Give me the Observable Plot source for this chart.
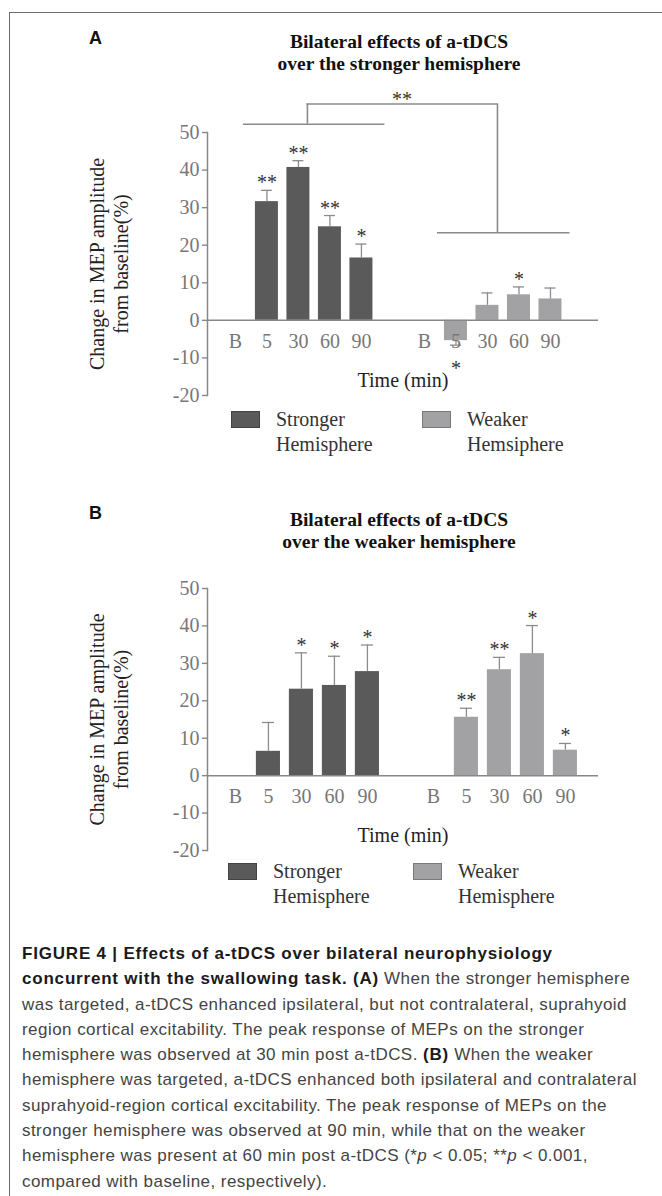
<!DOCTYPE html>
<html><head><meta charset="utf-8">
<script src="https://cdn.jsdelivr.net/npm/d3@7"></script>
<script src="https://cdn.jsdelivr.net/npm/@observablehq/plot@0.6"></script>
<style>
html,body{margin:0;padding:0;background:#fff;}
#page{position:relative;width:662px;height:1196px;overflow:hidden;background:#fff;}
#border{position:absolute;left:9px;top:12px;width:700px;height:1300px;border-left:1.4px solid #6a6a6a;border-top:1.4px solid #6a6a6a;}
.plabel{position:absolute;font-family:"Liberation Sans",Arial,sans-serif;font-weight:bold;font-size:18px;line-height:18px;color:#111;}
.title{position:absolute;font-family:"Liberation Serif",serif;font-weight:bold;font-size:19.5px;line-height:21.5px;text-align:center;color:#111;white-space:nowrap;transform:translateX(-50%);}
.chart{position:absolute;left:0;}
.leg{position:absolute;display:flex;align-items:flex-start;font-family:"Liberation Serif",serif;font-size:20px;line-height:25px;color:#333;}
.sw{width:29px;height:17px;margin-top:4px;margin-right:16px;box-sizing:border-box;border:1px solid rgba(0,0,0,0.25);}
.caption{position:absolute;left:22px;top:941px;font-family:"Liberation Sans",Arial,sans-serif;font-size:17px;letter-spacing:0.45px;line-height:25.3px;color:#444;white-space:nowrap;}
.caption b{color:#1a1a1a;letter-spacing:0.8px;}
</style>
</head><body>
<div id="page">
  <div id="border"></div>
  <div class="plabel" style="left:89px;top:29px">A</div>
  <div class="title" style="left:399px;top:31px">Bilateral effects of a-tDCS<br>over the stronger hemisphere</div>
  <div id="chartA" class="chart" style="top:80px"></div>
  <div class="plabel" style="left:89px;top:504px">B</div>
  <div class="title" style="left:399px;top:509px">Bilateral effects of a-tDCS<br>over the weaker hemisphere</div>
  <div id="chartB" class="chart" style="top:560px"></div>
  <div class="caption">
    <b>FIGURE 4 | Effects of a-tDCS over bilateral neurophysiology</b><br>
    <b>concurrent with the swallowing task. (A)</b> When the stronger hemisphere<br>
    was targeted, a-tDCS enhanced ipsilateral, but not contralateral, suprahyoid<br>
    region cortical excitability. The peak response of MEPs on the stronger<br>
    hemisphere was observed at 30 min post a-tDCS. <b>(B)</b> When the weaker<br>
    hemisphere was targeted, a-tDCS enhanced both ipsilateral and contralateral<br>
    suprahyoid-region cortical excitability. The peak response of MEPs on the<br>
    stronger hemisphere was observed at 90 min, while that on the weaker<br>
    hemisphere was present at 60 min post a-tDCS (*<i>p</i> &lt; 0.05; **<i>p</i> &lt; 0.001,<br>
    compared with baseline, respectively).
  </div>
</div>
<script>
// ---- data ----
const timeLabels = ["B", "5", "30", "60", "90"];
const groupKeys = ["S", "W"];
const yTicks = [-20, -10, 0, 10, 20, 30, 40, 50];
const barColors = ["#5a5a5a", "#a2a2a4"];
const yLabel = "Change in MEP amplitude\nfrom baseline(%)";
const xLabel = "Time (min)";

// Panel A: a-tDCS over the stronger hemisphere
const aStrongMean = [0, 31.6, 40.7, 24.9, 16.6];
const aStrongErr  = [null, 34.6, 42.5, 27.9, 20.3];
const aStrongSig  = ["", "**", "**", "**", "*"];
const aWeakMean   = [0, -5.4, 4.0, 6.8, 5.7];
const aWeakErr    = [null, -6.6, 7.3, 8.9, 8.6];
const aWeakSig    = ["", "*", "", "*", ""];
const aLegend     = ["Stronger\nHemisphere", "Weaker\nHemsiphere"];
const aBracketLevels = [52.2, 57.6, 23.3]; // strong-group bar, top bar, weak-group bar
const aBracketSig = "**";

// Panel B: a-tDCS over the weaker hemisphere
const bStrongMean = [0, 6.5, 23.1, 24.1, 27.8];
const bStrongErr  = [null, 14.2, 32.8, 31.9, 34.9];
const bStrongSig  = ["", "", "*", "*", "*"];
const bWeakMean   = [0, 15.6, 28.3, 32.6, 6.8];
const bWeakErr    = [null, 18.0, 31.6, 40.1, 8.6];
const bWeakSig    = ["", "**", "**", "*", "*"];
const bLegend     = ["Stronger\nHemisphere", "Weaker\nHemisphere"];

// ---- build ----
const xDomain = [...timeLabels.map(t => "S|" + t), "gap", ...timeLabels.map(t => "W|" + t)];

function rowsFor(sMean, sErr, sSig, wMean, wErr, wSig) {
  const rows = [];
  timeLabels.forEach((t, i) => rows.push({key: "S|" + t, group: "S", label: t, mean: sMean[i], err: sErr[i], sig: sSig[i]}));
  timeLabels.forEach((t, i) => rows.push({key: "W|" + t, group: "W", label: t, mean: wMean[i], err: wErr[i], sig: wSig[i]}));
  return rows;
}

function panel(rows, opts, extra) {
  const errRows = rows.filter(d => d.err != null);
  const sigPos = rows.filter(d => d.sig && d.err >= 0);
  const sigNeg = rows.filter(d => d.sig && d.err < 0);
  return Plot.plot({
    width: 662,
    height: opts.height,
    marginLeft: 207,
    marginRight: 64,
    marginTop: opts.marginTop,
    marginBottom: 5,
    style: {fontFamily: "Liberation Serif, serif", fontSize: "20px", color: "#777", background: "transparent", overflow: "visible"},
    x: {type: "band", domain: xDomain, paddingInner: 0.27, paddingOuter: opts.po, align: opts.align, round: false, axis: null},
    y: {domain: [-20, 50], axis: null},
    color: {domain: groupKeys, range: barColors},
    marks: [
      Plot.axisY({ticks: yTicks, tickSize: 5, tickPadding: 3, tickFormat: d => String(d), label: null, stroke: "#888", fill: "#777", strokeWidth: 1.4, fontSize: 20}),
      Plot.frame({anchor: "left", stroke: "#888", strokeWidth: 1.5}),
      Plot.barY(rows, {x: "key", y: "mean", fill: "group"}),
      Plot.ruleX(errRows, {x: "key", y1: "mean", y2: "err", stroke: "#8c8c8c", strokeWidth: 1.3}),
      Plot.tickY(errRows, {x: "key", y: "err", stroke: "#8c8c8c", strokeWidth: 1.3, insetLeft: 6, insetRight: 6}),
      Plot.ruleY([0], {stroke: "#888", strokeWidth: 1.5}),
      Plot.text(rows, {x: "key", y: 0, text: "label", dy: 21, fill: "#777", fontSize: 20}),
      Plot.text(sigPos, {x: "key", y: "err", text: "sig", lineAnchor: "bottom", dy: -1, fill: "#333", fontSize: 20}),
      Plot.text(sigNeg, {x: "key", y: "err", text: "sig", lineAnchor: "bottom", dy: 30, fill: "#333", fontSize: 20}),
      Plot.text([xLabel], {text: d => d, frameAnchor: "bottom", dy: -9, fill: "#222", fontSize: 20}),
      Plot.text([yLabel], {text: d => d, frameAnchor: "left", textAnchor: "middle", rotate: -90, dx: -99, lineHeight: 1.2, fill: "#222", fontSize: 20}),
      ...(extra || [])
    ]
  });
}

const bracketStyle = {stroke: "#8a8a8a", strokeWidth: 1.6};
const aExtra = [
  Plot.ruleY([aBracketLevels[0]], {x1: () => "S|5", x2: () => "S|90", insetLeft: -12, insetRight: -12, ...bracketStyle}),
  Plot.ruleX([0], {x: () => "S|30", y1: () => aBracketLevels[0], y2: () => aBracketLevels[1], dx: 9, ...bracketStyle}),
  Plot.ruleY([aBracketLevels[1]], {x1: () => "S|30", x2: () => "W|30", insetLeft: 20, insetRight: 1, ...bracketStyle}),
  Plot.ruleX([0], {x: () => "W|30", y1: () => aBracketLevels[2], y2: () => aBracketLevels[1], dx: 10, ...bracketStyle}),
  Plot.ruleY([aBracketLevels[2]], {x1: () => "W|5", x2: () => "W|90", insetLeft: -7, insetRight: -8, ...bracketStyle}),
  Plot.text([aBracketSig], {x: () => "gap", y: () => aBracketLevels[1], text: d => d, lineAnchor: "bottom", dx: 9, dy: 2, fill: "#333", fontSize: 20})
];

const rowsA = rowsFor(aStrongMean, aStrongErr, aStrongSig, aWeakMean, aWeakErr, aWeakSig);
const rowsB = rowsFor(bStrongMean, bStrongErr, bStrongSig, bWeakMean, bWeakErr, bWeakSig);

document.getElementById("chartA").append(panel(rowsA, {height: 320, marginTop: 52, po: 0.84, align: 0.31}, aExtra));
document.getElementById("chartB").append(panel(rowsB, {height: 295, marginTop: 28, po: 0.56, align: 0.43}, []));

function legend(labels, top, lefts) {
  const page = document.getElementById("page");
  labels.forEach((lab, i) => {
    const d = document.createElement("div");
    d.className = "leg";
    d.style.top = top + "px";
    d.style.left = lefts[i] + "px";
    const sw = document.createElement("div");
    sw.className = "sw";
    sw.style.background = barColors[i];
    const t = document.createElement("div");
    t.innerHTML = lab.split("\n").join("<br>");
    d.append(sw, t);
    page.append(d);
  });
}
legend(aLegend, 407, [231, 422]);
legend(bLegend, 859, [228, 413]);
</script>
</body></html>
